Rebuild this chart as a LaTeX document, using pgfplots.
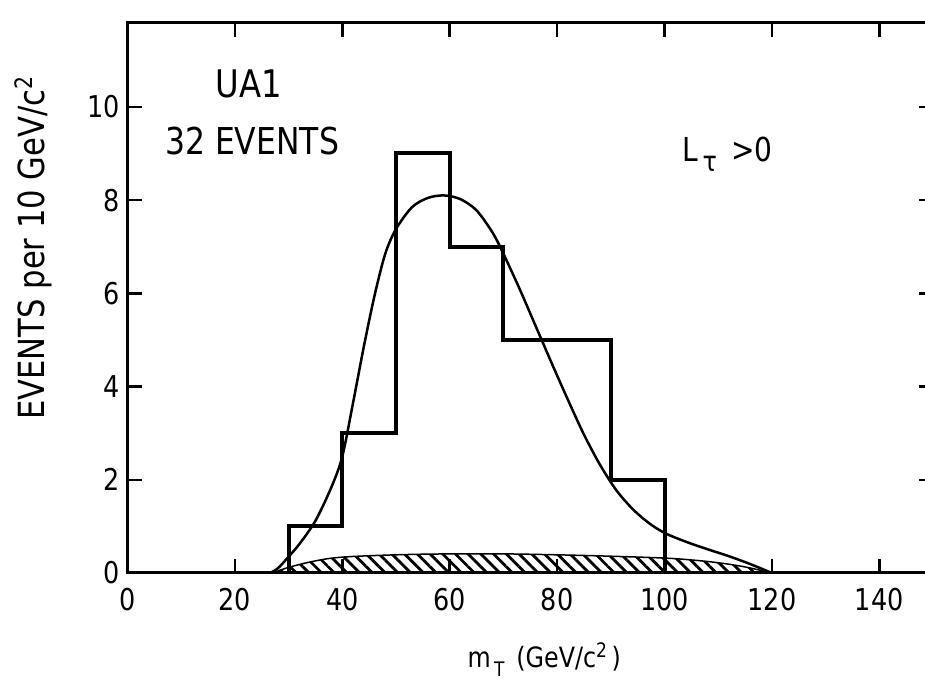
\documentclass[border=0pt]{standalone}
\usepackage{fontspec}
\setmainfont{DejaVu Sans}[FakeStretch=0.85]
\usepackage{pgfplots}
\pgfplotsset{compat=1.18}
\usetikzlibrary{patterns.meta}

\newcommand\fs[1]{\fontsize{#1}{#1}\selectfont}

\begin{document}
\begin{tikzpicture}
\begin{axis}[
  scale only axis,
  width=805.5pt, height=550pt,
  xmin=0, xmax=150, ymin=0, ymax=11.8,
  xtick={0,20,...,140}, ytick={0,2,...,10},
  tick align=inside,
  major tick length=14pt,
  every tick/.style={black, line width=2.5pt},
  axis line style={line width=3pt},
  /pgf/number format/assume math mode=true,
  ticklabel style={font=\fs{30}},
  xticklabel style={yshift=-12pt},
  yticklabel style={xshift=-4pt},
  clip=false,
]
\coordinate (O) at (axis cs:0,0);

% background (hatched) contribution
\addplot[smooth, tension=0.6, line width=1.5pt,
  pattern={Lines[angle=-45, distance=9pt, line width=2.8pt]}]
  coordinates {(27,0) (30,0.12) (35,0.26) (40,0.34) (50,0.39) (60,0.41)
               (70,0.41) (80,0.39) (90,0.36) (100,0.32) (105,0.28)
               (110,0.22) (115,0.13) (120,0)} \closedcycle;

% expected W -> tau nu shape
\addplot[smooth, tension=0.5, line width=2.5pt]
  coordinates {(26.5,0) (28,0.1) (30,0.35) (32,0.62) (35,1.12) (38,1.85)
               (40,2.5) (42,3.65) (44,4.85) (46,5.95) (48,6.85) (50,7.38)
               (53,7.85) (56,8.05) (59,8.1) (62,8.02) (65,7.78) (68,7.3)
               (70,6.85) (73,6.1) (76,5.3) (79,4.5) (82,3.72) (85,2.97)
               (88,2.32) (91,1.78) (94,1.38) (97,1.08) (100,0.86)
               (104,0.67) (108,0.51) (112,0.36) (116,0.19) (120,0)};

% observed events
\addplot[const plot, line width=4pt, line join=miter]
  coordinates {(30,0) (30,1) (40,3) (50,9) (60,7) (70,5) (80,5) (90,2) (100,0)};

\node[font=\fs{38}] at (axis cs:22.6,10.5) {UA1};
\node[font=\fs{37}] at (axis cs:23.2,9.27) {32 EVENTS};
\node[font=\fs{33}, anchor=base west, inner sep=0pt] at (axis cs:103.3,8.82)
  {L\raisebox{-10pt}{\fs{28}\,τ}\hspace{14pt}>0};

\node[font=\fs{28}, anchor=base] at (axis cs:77.6,-2.02)
  {m\raisebox{-9pt}{\fs{20}\,T}\hspace{12pt}(GeV/c\raisebox{10pt}{\fs{20}2}\,)};
\node[font=\fs{36}, rotate=90] at (axis cs:-17.6,6.97)
  {EVENTS per 10 GeV/c\raisebox{12pt}{\fs{24}2}};
\end{axis}
\pgfresetboundingbox
\useasboundingbox (O) ++(-127.5pt,-111pt) rectangle ++(925pt,684pt);
\end{tikzpicture}
\end{document}
